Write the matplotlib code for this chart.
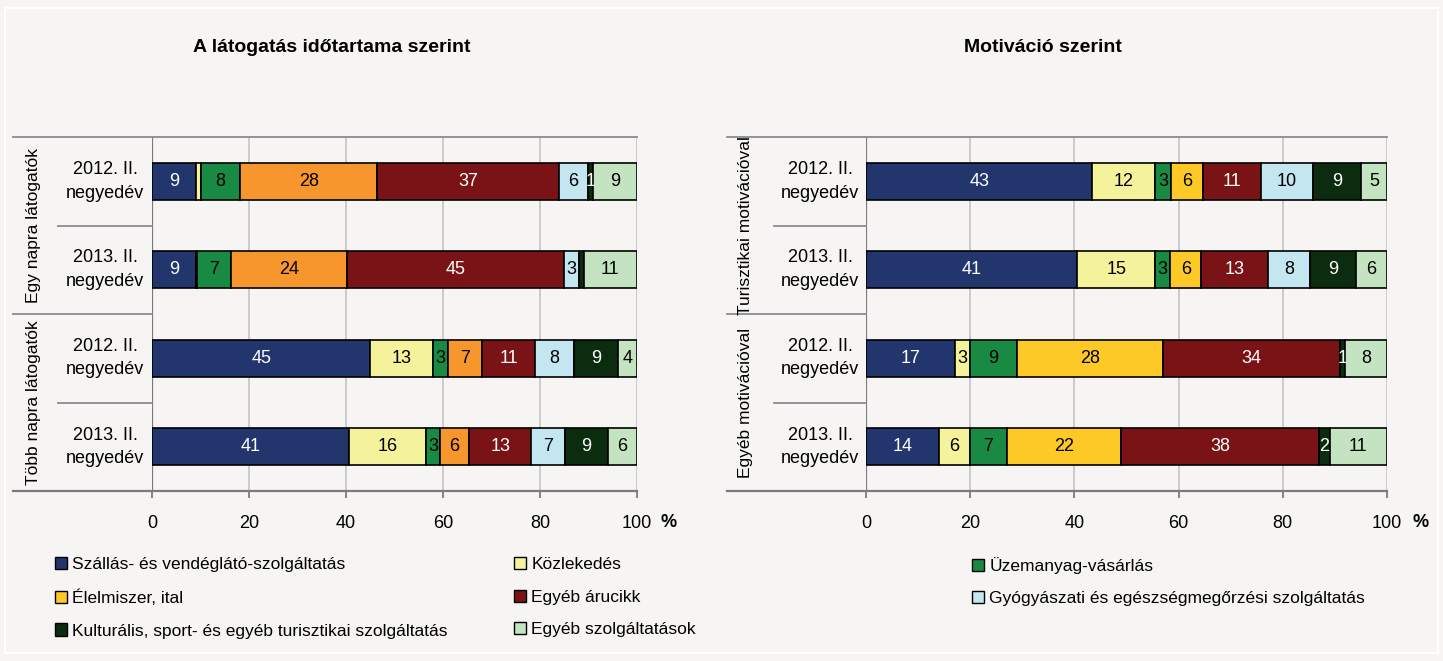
import numpy as np
import matplotlib.pyplot as plt
from matplotlib.patches import Patch, Rectangle
from matplotlib.transforms import blended_transform_factory

plt.rcParams['font.family'] = ['Liberation Sans', 'DejaVu Sans']

# ------------------------------------------------------------
# Data
# ------------------------------------------------------------
categories = [
    "Szállás- és vendéglátó-szolgáltatás",
    "Közlekedés",
    "Üzemanyag-vásárlás",
    "Élelmiszer, ital",
    "Egyéb árucikk",
    "Gyógyászati és egészségmegőrzési szolgáltatás",
    "Kulturális, sport- és egyéb turisztikai szolgáltatás",
    "Egyéb szolgáltatások",
]

row_labels = ["2012. II.\nnegyedév", "2013. II.\nnegyedév",
              "2012. II.\nnegyedév", "2013. II.\nnegyedév"]

duration_groups = ["Egy napra látogatók", "Több napra látogatók"]
duration_values = [
    [9, 1, 8, 28, 37, 6, 1, 9],
    [9, 0.3, 7, 24, 45, 3, 1, 11],
    [45, 13, 3, 7, 11, 8, 9, 4],
    [41, 16, 3, 6, 13, 7, 9, 6],
]
duration_hidden = [(0, 1), (1, 1), (1, 6)]

motivation_groups = ["Turisztikai motivációval", "Egyéb motivációval"]
motivation_values = [
    [43, 12, 3, 6, 11, 10, 9, 5],
    [41, 15, 3, 6, 13, 8, 9, 6],
    [17, 3, 9, 28, 34, 0, 1, 8],
    [14, 6, 7, 22, 38, 0, 2, 11],
]
motivation_hidden = [(2, 5), (3, 5)]

x_ticks = [0, 20, 40, 60, 80, 100]

# ------------------------------------------------------------
# Styles
# ------------------------------------------------------------
bg = "#f6f5f3"
colors_right = ["#22356d", "#f4f29a", "#198a44", "#fdc927",
                "#7a1315", "#c3e6f0", "#0c2c10", "#c4e3c0"]
colors_left = list(colors_right)
colors_left[3] = "#f7962c"
white_text = {0, 4, 6}

W, H = 1443, 661
fig = plt.figure(figsize=(W / 100, H / 100), dpi=100)
fig.patch.set_facecolor(bg)
fig.patches.append(Rectangle((5 / W, 8 / H), 1433 / W, 645 / H,
                             transform=fig.transFigure, fill=False,
                             edgecolor="white", linewidth=1.5))


def draw_panel(rect, values, hidden, groups, colors, title, title_x,
               frame_x, inner_x, cat_x, grp_x):
    ax = fig.add_axes(rect)
    ax.set_facecolor(bg)
    vals = np.array(values, dtype=float)
    vals = vals / vals.sum(axis=1, keepdims=True) * 100
    ypos = np.arange(len(vals))

    ax.set_xlim(0, 100)
    ax.set_ylim(3.5, -0.5)
    for s in ax.spines.values():
        s.set_visible(False)

    for xv in x_ticks[1:]:
        ax.axvline(xv, color="#c4c4c8", linewidth=1.2, zorder=0)

    left = np.zeros(len(vals))
    for j in range(vals.shape[1]):
        ax.barh(ypos, vals[:, j], left=left, height=0.42,
                color=colors[j], edgecolor="black", linewidth=1.2, zorder=3)
        for i in range(len(vals)):
            if (i, j) in hidden:
                continue
            ax.text(left[i] + vals[i, j] / 2, ypos[i],
                    f"{values[i][j]:g}", ha="center", va="center",
                    fontsize=13,
                    color="white" if j in white_text else "black",
                    zorder=4)
        left += vals[:, j]

    tr = blended_transform_factory(ax.transAxes, ax.transData)
    line_kw = dict(transform=tr, clip_on=False, color="#8a8a90", linewidth=1.3)
    ax.plot([frame_x, 1], [-0.5, -0.5], **line_kw)
    ax.plot([frame_x, 0], [1.5, 1.5], **line_kw)
    ax.plot([inner_x, 0], [0.5, 0.5], **line_kw)
    ax.plot([inner_x, 0], [2.5, 2.5], **line_kw)
    ax.plot([frame_x, 1], [3.5, 3.5], transform=tr, clip_on=False,
            color="#7a7a80", linewidth=1.6)
    ax.axvline(0, color="#7a7a80", linewidth=1.6, zorder=1)

    for i, lab in enumerate(row_labels):
        ax.text(cat_x, ypos[i], lab, transform=tr, ha="center",
                va="center", fontsize=13, linespacing=1.5)
    for k, g in enumerate(groups):
        ax.text(grp_x, 0.5 + 2 * k, g, transform=tr, ha="center",
                va="center", rotation=90, fontsize=12.5)

    ax.set_yticks([])
    ax.set_xticks(x_ticks)
    ax.tick_params(axis="x", length=5, width=1.3, color="#7a7a80",
                   pad=12, labelsize=13)
    ax.text(1.065, -0.09, "%", transform=ax.transAxes, ha="center",
            va="center", fontsize=13, fontweight="bold")
    fig.text(title_x / W, 1 - 48 / H, title, ha="center",
             va="center", fontsize=14, fontweight="bold")
    return ax


draw_panel([152 / W, 1 - 491 / H, 485 / W, 354 / H],
           duration_values, duration_hidden, duration_groups, colors_left,
           "A látogatás időtartama szerint", 332,
           -0.287, -0.194, -0.097, -0.245)

draw_panel([866 / W, 1 - 491 / H, 521 / W, 354 / H],
           motivation_values, motivation_hidden, motivation_groups,
           colors_right, "Motiváció szerint", 1043,
           -0.267, -0.177, -0.088, -0.232)

# ------------------------------------------------------------
# Legend (three columns, filled row by row)
# ------------------------------------------------------------
handles = [Patch(facecolor=c, edgecolor="black", linewidth=1.0)
           for c in colors_right]
columns = [[0, 3, 6], [1, 4, 7], [2, 5]]
col_x = [55, 514, 972]
for cx, idx in zip(col_x, columns):
    fig.legend([handles[k] for k in idx], [categories[k] for k in idx],
               loc="upper left", bbox_to_anchor=(cx / W, 1 - 557 / H),
               frameon=False, fontsize=12.5, handlelength=0.7,
               handleheight=0.7, handletextpad=0.3, labelspacing=1.0,
               borderpad=0, borderaxespad=0)

fig.savefig("out.png", dpi=100, facecolor=bg)
